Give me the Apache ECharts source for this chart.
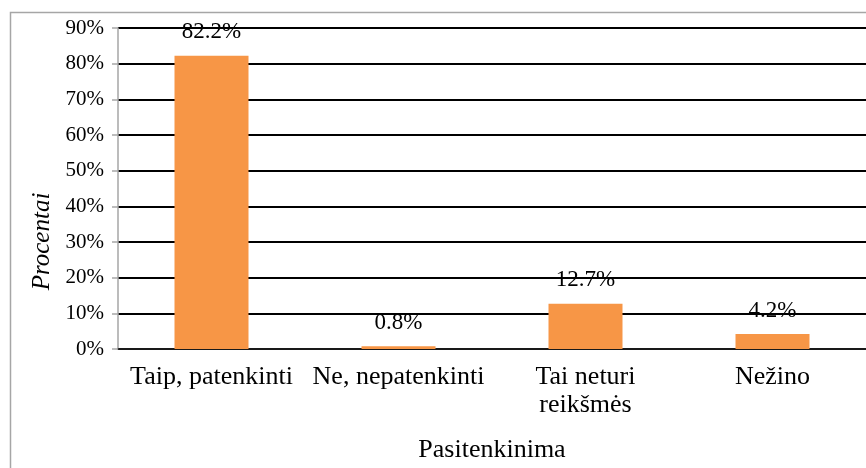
<!DOCTYPE html>
<html>
<head>
<meta charset="utf-8">
<script src="https://cdn.jsdelivr.net/npm/echarts@6/dist/echarts.min.js"></script>
<style>
  html, body { margin: 0; padding: 0; background: #fff; }
  #chart { width: 866px; height: 468px; }
</style>
</head>
<body>
<div id="chart"></div>
<script>
var categories = ['Taip, patenkinti', 'Ne, nepatenkinti', 'Tai neturi\nreikšmės', 'Nežino'];
var values = [82.2, 0.8, 12.7, 4.2];
var yTicks = [0, 10, 20, 30, 40, 50, 60, 70, 80, 90];

var font = '"Liberation Serif", "DejaVu Serif", serif';
var chart = echarts.init(document.getElementById('chart'));

chart.setOption({
    animation: false,
    textStyle: { fontFamily: font },
    graphic: [{
        type: 'rect',
        shape: { x: 10.5, y: 12.5, width: 900, height: 500 },
        style: { fill: 'none', stroke: '#a6a6a6', lineWidth: 1.5 },
        z: -1
    }],
    grid: { left: 118, right: 0, top: 28, bottom: 117 },
    xAxis: {
        type: 'category',
        data: categories,
        name: 'Pasitenkinima',
        nameLocation: 'middle',
        nameGap: 88,
        nameTextStyle: { fontFamily: font, fontSize: 26, color: '#000' },
        axisLine: { lineStyle: { color: '#222', width: 1.5 } },
        axisTick: { show: false },
        axisLabel: { fontFamily: font, fontSize: 26, color: '#000', margin: 14, lineHeight: 28, interval: 0 }
    },
    yAxis: {
        type: 'value',
        min: 0,
        max: 90,
        interval: 10,
        name: 'Procentai',
        nameLocation: 'middle',
        nameGap: 62,
        // pushed down toward the lower half, like the original
        nameTextStyle: { fontFamily: font, fontSize: 25, fontStyle: 'italic', color: '#000', padding: [0, 106, 0, 0] },
        axisLine: { show: true, lineStyle: { color: '#a6a6a6', width: 1.5 } },
        axisTick: { show: true, length: 6, lineStyle: { color: '#a6a6a6', width: 1.5 } },
        axisLabel: {
            fontFamily: font, fontSize: 21, color: '#000', margin: 14,
            formatter: function (v) { return yTicks.indexOf(v) >= 0 ? v + '%' : ''; }
        },
        splitLine: { lineStyle: { color: '#000', width: 2 } }
    },
    series: [{
        type: 'bar',
        data: values,
        barWidth: 74,
        itemStyle: { color: '#f79646' },
        label: {
            show: true,
            position: 'top',
            distance: 12,
            fontFamily: font,
            fontSize: 23,
            color: '#000',
            formatter: function (p) { return p.value.toFixed(1) + '%'; }
        }
    }]
});
</script>
</body>
</html>
